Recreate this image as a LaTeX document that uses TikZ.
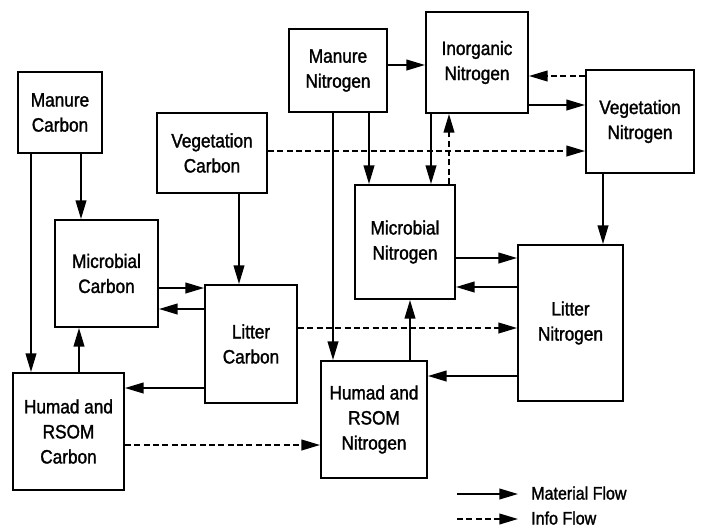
\documentclass[tikz,border=0pt]{standalone}
\usepackage{fontspec}
\setmainfont{Liberation Sans}[FakeStretch=0.89,FakeBold=1.5]
\usetikzlibrary{arrows.meta}
\tikzset{>/.tip={Triangle[length=14pt,width=8pt]}}

\begin{document}
\begin{tikzpicture}[x=0.75pt,y=-0.75pt,
  box/.style={draw,line width=1.4pt,inner sep=0pt,align=center,
    font=\fontsize{14.5}{18.8}\selectfont},
  flow/.style={->,line width=1.4pt},
  info/.style={->,line width=1.4pt,dash pattern=on 4.5pt off 2.5pt}]
\useasboundingbox (0,0) rectangle (701,529);
% carbon boxes
\node[box,minimum width=84pt*0.75,minimum height=81pt*0.75]   (mc)  at (60,112.5)   {Manure\\Carbon};
\node[box,minimum width=110pt*0.75,minimum height=80pt*0.75]  (vc)  at (212,153)    {Vegetation\\Carbon};
\node[box,minimum width=103pt*0.75,minimum height=107pt*0.75] (mic) at (106.5,273.5){Microbial\\Carbon};
\node[box,minimum width=92pt*0.75,minimum height=118pt*0.75]  (lc)  at (251,344)    {Litter\\Carbon};
\node[box,minimum width=111pt*0.75,minimum height=117pt*0.75] (hc)  at (68.5,431.5) {Humad and\\RSOM\\Carbon};
% nitrogen boxes
\node[box,minimum width=98pt*0.75,minimum height=83pt*0.75]   (mn)  at (338,70.5)   {Manure\\Nitrogen};
\node[box,minimum width=102pt*0.75,minimum height=101pt*0.75] (in)  at (477,62.5)   {Inorganic\\Nitrogen};
\node[box,minimum width=108pt*0.75,minimum height=103pt*0.75] (vn)  at (640,121.5)  {Vegetation\\Nitrogen};
\node[box,minimum width=100pt*0.75,minimum height=114pt*0.75] (min) at (405,242)    {Microbial\\Nitrogen};
\node[box,minimum width=105pt*0.75,minimum height=156pt*0.75] (ln)  at (570.5,323)  {Litter\\Nitrogen};
\node[box,minimum width=106pt*0.75,minimum height=117pt*0.75] (hn)  at (374,419.5)  {Humad and\\RSOM\\Nitrogen};
% material flow
\draw[flow] (mc.south -| 81,0) -- (mic.north -| 81,0);
\draw[flow] (mc.south -| 31,0) -- (hc.north -| 31,0);
\draw[flow] (vc.south -| 239,0) -- (lc.north -| 239,0);
\draw[flow] (mic.east |- 0,288) -- (lc.west |- 0,288);
\draw[flow] (lc.west |- 0,309) -- (mic.east |- 0,309);
\draw[flow] (hc.north -| 79,0) -- (mic.south -| 79,0);
\draw[flow] (lc.west |- 0,388) -- (hc.east |- 0,388);
\draw[flow] (mn.east |- 0,65) -- (in.west |- 0,65);
\draw[flow] (in.east |- 0,105) -- (vn.west |- 0,105);
\draw[flow] (mn.south -| 369,0) -- (min.north -| 369,0);
\draw[flow] (mn.south -| 333,0) -- (hn.north -| 333,0);
\draw[flow] (in.south -| 431,0) -- (min.north -| 431,0);
\draw[flow] (vn.south -| 603,0) -- (ln.north -| 603,0);
\draw[flow] (min.east |- 0,258) -- (ln.west |- 0,258);
\draw[flow] (ln.west |- 0,287) -- (min.east |- 0,287);
\draw[flow] (hn.north -| 410,0) -- (min.south -| 410,0);
\draw[flow] (ln.west |- 0,376) -- (hn.east |- 0,376);
% info flow
\draw[info] (vn.west |- 0,76) -- (in.east |- 0,76);
\draw[info] (min.north -| 449,0) -- (in.south -| 449,0);
\draw[info] (vc.east |- 0,151) -- (vn.west |- 0,151);
\draw[info] (lc.east |- 0,328) -- (ln.west |- 0,328);
\draw[info] (hc.east |- 0,445) -- (hn.west |- 0,445);
% legend
\coordinate (m1) at (457,494);
\coordinate (m2) at (518,494);
\coordinate (i1) at (457,519);
\coordinate (i2) at (518,519);
\draw[flow] (m1) -- (m2);
\draw[info] (i1) -- (i2);
\node[anchor=base west,inner sep=0pt,font=\fontsize{13.5}{15}\selectfont] (mf) at (531,499.5) {Material Flow};
\node[anchor=base west,inner sep=0pt,font=\fontsize{13.5}{15}\selectfont] (if) at (531,524.5) {Info Flow};
\end{tikzpicture}
\end{document}
